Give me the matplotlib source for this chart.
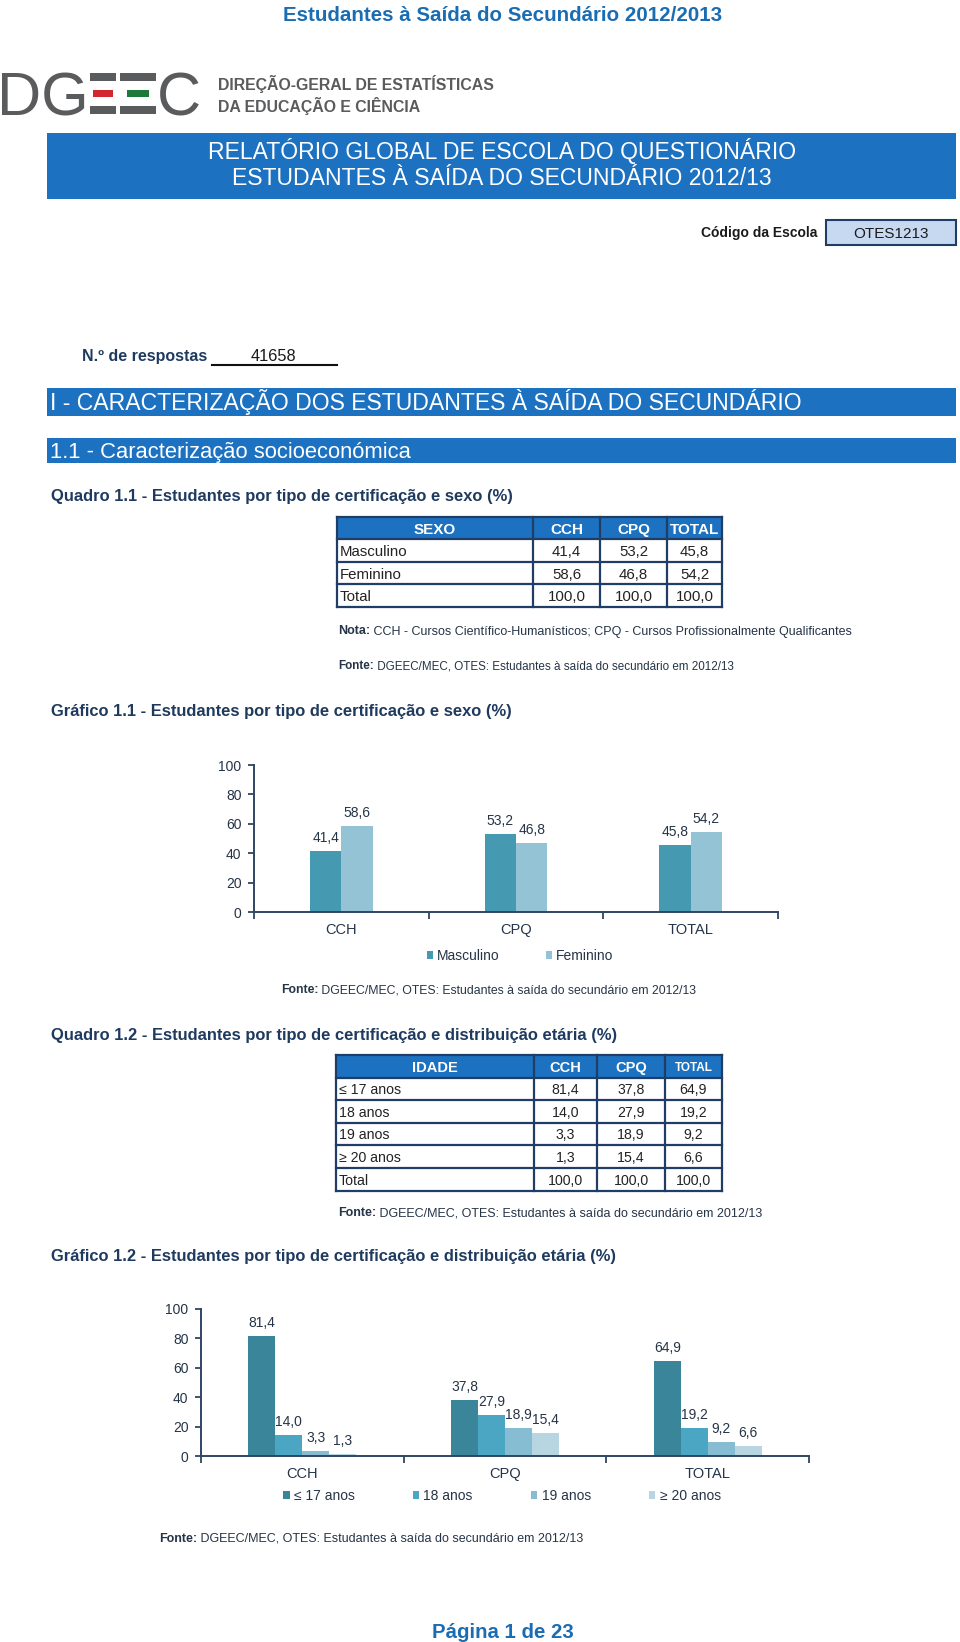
import numpy as np
import matplotlib
matplotlib.use("Agg")
import matplotlib.pyplot as plt
from matplotlib.patches import Rectangle
from matplotlib import font_manager as fm

# ---------------- data ----------------
categories = ["CCH", "CPQ", "TOTAL"]

sexo_series = ["Masculino", "Feminino"]
masculino = [41.4, 53.2, 45.8]
feminino = [58.6, 46.8, 54.2]
sexo_total = [100.0, 100.0, 100.0]

idade_series = ["≤ 17 anos", "18 anos", "19 anos", "≥ 20 anos"]
idade_ate17 = [81.4, 37.8, 64.9]
idade_18 = [14.0, 27.9, 19.2]
idade_19 = [3.3, 18.9, 9.2]
idade_20mais = [1.3, 15.4, 6.6]
idade_total = [100.0, 100.0, 100.0]

y_ticks = [0, 20, 40, 60, 80, 100]
n_respostas = "41658"
codigo_escola = "OTES1213"

# ---------------- style ----------------
names = {f.name for f in fm.fontManager.ttflist}
SANS = "Liberation Sans" if "Liberation Sans" in names else "DejaVu Sans"
NARROW = "Liberation Sans Narrow" if "Liberation Sans Narrow" in names else None

BLUE = "#1c71c1"
TITLE_BLUE = "#1b6db3"
NAVY = "#1f3a5f"
BORDER = "#203d66"
TXT = "#253447"
AXC = "#2f4562"
GRAY = "#5a5b5d"

plt.rcParams["font.family"] = [SANS, "DejaVu Sans"]

fig = plt.figure(figsize=(9.6, 16.42), dpi=100)
bg = fig.add_axes([0, 0, 1, 1])
bg.set_xlim(0, 960)
bg.set_ylim(1642, 0)
bg.axis("off")


def fmt(v):
    return f"{v:.1f}".replace(".", ",")


def T(x, y, s, size, color="#000000", weight="normal", ha="left", family=None):
    """y = visual centre of capital letters (px from top)."""
    fam = family if family else [SANS, "DejaVu Sans"]
    return bg.text(x, y + 0.5 * size, s, fontsize=size, color=color,
                   fontweight=weight, ha=ha, va="baseline", family=fam)


def rect(x0, y0, x1, y1, fc, ec="none", lw=0):
    bg.add_patch(Rectangle((x0, y0), x1 - x0, y1 - y0, facecolor=fc,
                           edgecolor=ec, linewidth=lw))


def rich(x, y, parts, size, color):
    r = fig.canvas.get_renderer()
    for s, w in parts:
        t = T(x, y, s, size, color, weight=w)
        x += t.get_window_extent(r).width


def table(xs, ys, header, header_sizes, rows, size):
    rect(xs[0], ys[0], xs[-1], ys[1], BLUE)
    yc = (ys[0] + ys[1]) / 2
    for j, h in enumerate(header):
        T((xs[j] + xs[j + 1]) / 2, yc, h, header_sizes[j], "white", "bold", ha="center")
    for i, (lab, vals) in enumerate(rows):
        yc = (ys[i + 1] + ys[i + 2]) / 2
        T(xs[0] + 3, yc, lab, size, "#222222")
        for j, v in enumerate(vals):
            T((xs[j + 1] + xs[j + 2]) / 2, yc, fmt(v), size, "#222222", ha="center")
    for y in ys:
        bg.plot([xs[0], xs[-1]], [y, y], color=BORDER, lw=1.6, solid_capstyle="projecting")
    for x in xs:
        bg.plot([x, x], [ys[0], ys[-1]], color=BORDER, lw=1.6, solid_capstyle="projecting")


def chart(left, right, y0px, y100px, series, names_, colors, width,
          legend_xy, colspacing):
    ax = fig.add_axes([left / 960, 1 - y0px / 1642,
                       (right - left) / 960, (y0px - y100px) / 1642])
    ax.patch.set_alpha(0)
    n = len(series)
    x = np.arange(len(categories)) + 0.5
    handles = []
    for k, (vals, c, nm) in enumerate(zip(series, colors, names_)):
        pos = x + (k - (n - 1) / 2) * width
        b = ax.bar(pos, vals, width, color=c, label=nm, linewidth=0)
        handles.append(b)
        for p, v in zip(pos, vals):
            ax.annotate(fmt(v), (p, v), xytext=(0, 6.5), textcoords="offset points",
                        ha="center", va="baseline", fontsize=10, color=TXT)
    ax.set_xlim(0, len(categories))
    ax.set_ylim(0, 100)
    ax.set_yticks(y_ticks)
    ax.set_yticklabels([str(t) for t in y_ticks])
    ax.set_xticks(np.arange(len(categories) + 1))
    ax.set_xticklabels([])
    ax.set_xticks(x, minor=True)
    ax.set_xticklabels(categories, minor=True)
    ax.tick_params(axis="x", which="minor", length=0, pad=8, labelsize=10.5, labelcolor=TXT)
    ax.tick_params(axis="x", which="major", length=5, width=1.3, color=AXC, direction="out")
    ax.tick_params(axis="y", length=4, width=1.3, color=AXC, pad=5, labelsize=10, labelcolor=TXT)
    for s in ("top", "right"):
        ax.spines[s].set_visible(False)
    for s in ("left", "bottom"):
        ax.spines[s].set_color(AXC)
        ax.spines[s].set_linewidth(1.4)
    ax.legend(handles, names_, loc="center", bbox_to_anchor=legend_xy,
              bbox_transform=bg.transData, ncol=n, frameon=False, fontsize=10,
              handlelength=0.45, handleheight=0.45, handletextpad=0.3,
              columnspacing=colspacing, labelcolor=TXT, borderpad=0)
    return ax


# ---------------- header ----------------
T(503, 14, "Estudantes à Saída do Secundário 2012/2013", 14.8, TITLE_BLUE, "bold", ha="center")

# logo
logo_fam = [NARROW, SANS] if NARROW else [SANS]
bg.text(-3, 115, "DG", fontsize=44, color=GRAY, va="baseline", family=logo_fam)
bg.text(157, 115, "C", fontsize=44, color=GRAY, va="baseline", family=logo_fam)
for (xa, xb, mc, ma, mb) in [(90, 116, "#d4262e", 93, 113), (120, 156, "#1e7a3a", 127, 149)]:
    rect(xa, 73, xb, 81, GRAY)
    rect(ma, 90, mb, 97, mc)
    rect(xa, 106, xb, 114, GRAY)
if NARROW:
    T(218, 84, "DIREÇÃO-GERAL DE ESTATÍSTICAS", 13.5, GRAY, "bold", family=[NARROW, SANS])
    T(218, 106, "DA EDUCAÇÃO E CIÊNCIA", 13.5, GRAY, "bold", family=[NARROW, SANS])
else:
    T(218, 84, "DIREÇÃO-GERAL DE ESTATÍSTICAS", 11.4, GRAY, "bold")
    T(218, 106, "DA EDUCAÇÃO E CIÊNCIA", 11.4, GRAY, "bold")

# main banner
rect(47, 133, 956, 199, BLUE)
T(502, 150.5, "RELATÓRIO GLOBAL DE ESCOLA DO QUESTIONÁRIO", 16.6, "white", ha="center")
T(502, 177, "ESTUDANTES À SAÍDA DO SECUNDÁRIO 2012/13", 16.6, "white", ha="center")

# código da escola
T(817, 232.5, "Código da Escola", 10, "#1a1a1a", "bold", ha="right")
rect(826, 220, 956, 245, "#c6d9f1", BORDER, 1.5)
T(891, 232.5, codigo_escola, 11, "#1a1a1a", ha="center")

# respostas
T(82, 355, "N.º de respostas", 11.5, NAVY, "bold")
T(251, 355, n_respostas, 11.8, "#1a1a1a")
bg.plot([212, 337], [365, 365], color="#111111", lw=1.5)

# section banners
rect(47, 388, 956, 416, BLUE)
T(50, 401.5, "I - CARACTERIZAÇÃO DOS ESTUDANTES À SAÍDA DO SECUNDÁRIO", 16.6, "white")
rect(47, 438, 956, 463, BLUE)
T(50, 450, "1.1 - Caracterização socioeconómica", 15.8, "white")

# ---------------- Quadro 1.1 ----------------
T(51, 495, "Quadro 1.1 - Estudantes por tipo de certificação e sexo (%)", 11.9, NAVY, "bold")
table([337, 533, 600, 667, 722], [517, 539.5, 562, 584.5, 607],
      ["SEXO", "CCH", "CPQ", "TOTAL"], [11, 11, 11, 11],
      [(sexo_series[0], masculino), (sexo_series[1], feminino), ("Total", sexo_total)], 10.8)
rich(338, 630, [("Nota:", "bold"),
                (" CCH - Cursos Científico-Humanísticos; CPQ - Cursos Profissionalmente Qualificantes", "normal")],
     9, TXT)
rich(338, 665, [("Fonte:", "bold"),
                (" DGEEC/MEC, OTES: Estudantes à saída do secundário em 2012/13", "normal")], 8.4, TXT)

# ---------------- Gráfico 1.1 ----------------
T(51, 710, "Gráfico 1.1 - Estudantes por tipo de certificação e sexo (%)", 11.9, NAVY, "bold")
chart(254, 778, 912, 765, [masculino, feminino], sexo_series,
      ["#4599b1", "#93c3d5"], 0.18, (520, 956), 3.3)
rich(281, 989, [("Fonte:", "bold"),
                (" DGEEC/MEC, OTES: Estudantes à saída do secundário em 2012/13", "normal")], 8.8, TXT)

# ---------------- Quadro 1.2 ----------------
T(51, 1034, "Quadro 1.2 - Estudantes por tipo de certificação e distribuição etária (%)", 11.9, NAVY, "bold")
table([336, 534, 597, 665, 722], [1055, 1078, 1100.5, 1123, 1145.5, 1168, 1191],
      ["IDADE", "CCH", "CPQ", "TOTAL"], [10.5, 10.5, 10.5, 8.5],
      [(idade_series[0], idade_ate17),
       (idade_series[1], idade_18),
       (idade_series[2], idade_19),
       (idade_series[3], idade_20mais),
       ("Total", idade_total)], 10.2)
rich(338, 1212, [("Fonte:", "bold"),
                 (" DGEEC/MEC, OTES: Estudantes à saída do secundário em 2012/13", "normal")], 9, TXT)

# ---------------- Gráfico 1.2 ----------------
T(51, 1255, "Gráfico 1.2 - Estudantes por tipo de certificação e distribuição etária (%)", 11.9, NAVY, "bold")
chart(201, 809, 1456, 1309, [idade_ate17, idade_18, idade_19, idade_20mais], idade_series,
      ["#3a8599", "#4aa6c2", "#86bdd2", "#b8d6e2"], 0.133, (502, 1496), 4.2)
rich(159, 1537, [("Fonte:", "bold"),
                 (" DGEEC/MEC, OTES: Estudantes à saída do secundário em 2012/13", "normal")], 9, TXT)

# footer
T(503, 1631, "Página 1 de 23", 14.7, TITLE_BLUE, "bold", ha="center")

fig.savefig("out.png", dpi=100)
